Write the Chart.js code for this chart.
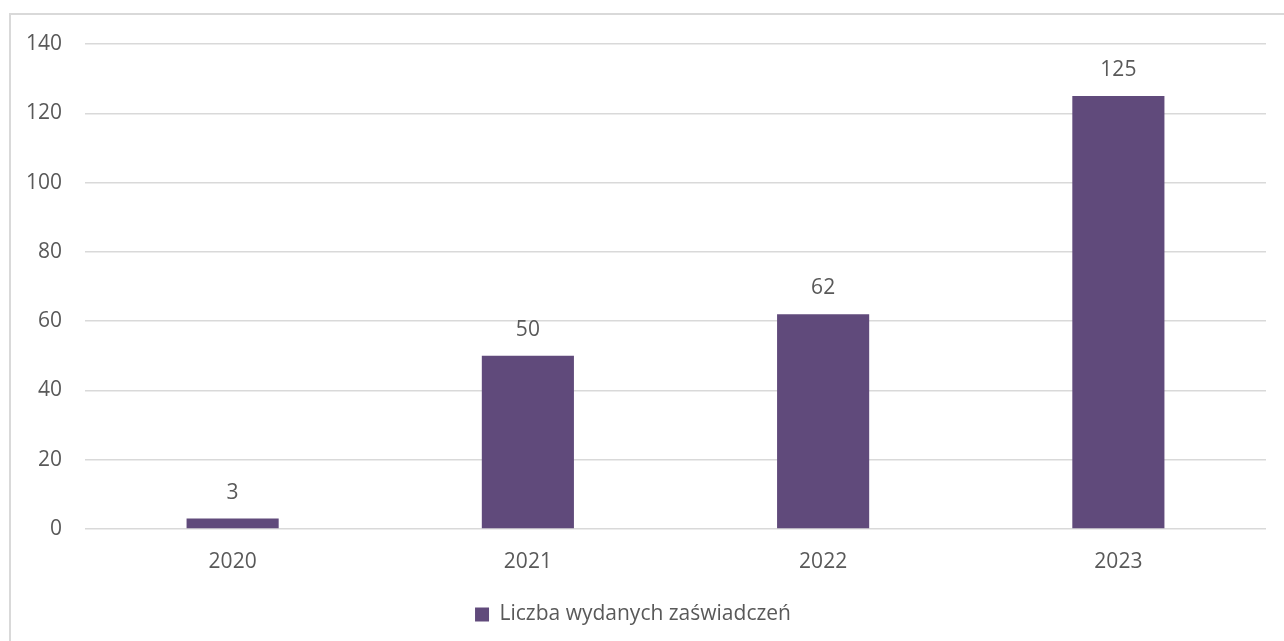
<!DOCTYPE html>
<html>
<head>
<meta charset="utf-8">
<script src="https://cdn.jsdelivr.net/npm/chart.js@4/dist/chart.umd.min.js"></script>
<style>
  html, body { margin: 0; padding: 0; background: #fff; }
  #ramka { position: absolute; left: 9px; top: 13px; width: 1290px; height: 640px;
           border-left: 2px solid #d9d9d9; border-top: 2px solid #d9d9d9; }
  #wrap { position: absolute; left: 0; top: 0; width: 1284px; height: 641px; }
</style>
</head>
<body>
<div id="ramka"></div>
<div id="wrap"><canvas id="wykres"></canvas></div>
<script>
// dane
const lata = ['2020', '2021', '2022', '2023'];
const zaswiadczenia = [3, 50, 62, 125];
const nazwaSerii = 'Liczba wydanych zaświadczeń';
const osY = { min: 0, max: 140, krok: 20 };

const kolorSlupka = '#604a7b';
const kolorTekstu = '#595959';
const czcionka = '"Open Sans", sans-serif';
const rozmiar = 21;

// etykiety nad słupkami
const etykiety = {
  id: 'etykiety',
  afterDatasetsDraw(chart) {
    const ctx = chart.ctx;
    const meta = chart.getDatasetMeta(0);
    ctx.save();
    ctx.fillStyle = kolorTekstu;
    ctx.font = rozmiar + 'px ' + czcionka;
    ctx.textAlign = 'center';
    ctx.textBaseline = 'middle';
    meta.data.forEach((bar, i) => {
      ctx.fillText(String(chart.data.datasets[0].data[i]), bar.x, bar.y - 26);
    });
    ctx.restore();
  }
};

new Chart(document.getElementById('wykres'), {
  type: 'bar',
  data: {
    labels: lata,
    datasets: [{
      label: nazwaSerii,
      data: zaswiadczenia,
      backgroundColor: kolorSlupka,
      borderWidth: 0,
      categoryPercentage: 1,
      barPercentage: 0.312
    }]
  },
  options: {
    responsive: true,
    maintainAspectRatio: false,
    animation: false,
    layout: { padding: { top: 44, right: 18, bottom: 6, left: 0 } },
    scales: {
      x: {
        grid: { display: false, drawTicks: false },
        border: { display: false },
        ticks: { color: kolorTekstu, font: { family: czcionka, size: rozmiar }, padding: 20 },
        afterFit: s => { s.height = 65; }
      },
      y: {
        min: osY.min,
        max: osY.max,
        grid: { color: '#d9d9d9', lineWidth: 1.5, drawTicks: false },
        border: { display: false },
        ticks: { stepSize: osY.krok, color: kolorTekstu, font: { family: czcionka, size: rozmiar }, padding: 23 },
        afterFit: s => { s.width = 85; }
      }
    },
    plugins: {
      legend: {
        position: 'bottom',
        labels: {
          color: kolorTekstu,
          font: { family: czcionka, size: rozmiar },
          boxWidth: 14,
          boxHeight: 14,
          padding: 10
        }
      },
      tooltip: { enabled: false }
    }
  },
  plugins: [etykiety]
});
</script>
</body>
</html>
